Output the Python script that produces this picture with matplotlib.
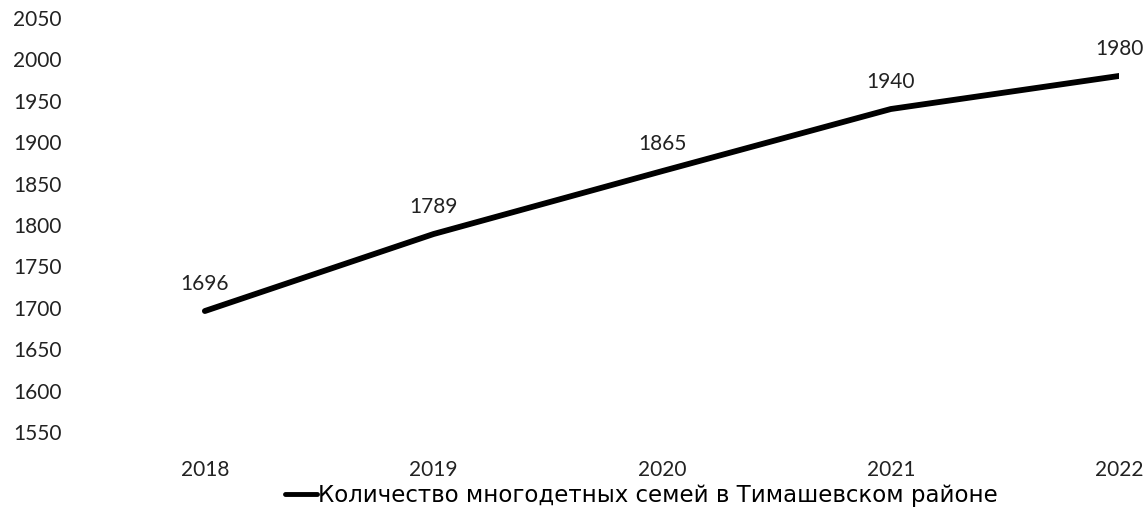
import matplotlib.pyplot as plt
import numpy as np

# Data
years = ["2018", "2019", "2020", "2021", "2022"]
families = [1696, 1789, 1865, 1940, 1980]
y_ticks = [1550, 1600, 1650, 1700, 1750, 1800, 1850, 1900, 1950, 2000, 2050]
series_name = "Количество многодетных семей в Тимашевском районе"

plt.rcParams["font.family"] = ["Lato", "DejaVu Sans"]

fig = plt.figure(figsize=(11.47, 5.28), dpi=100)
ax = fig.add_axes([0.061, 0.182, 0.915, 0.784])

x = np.arange(len(years))
ax.plot(x, families, color="black", linewidth=4.2, solid_capstyle="round",
        label=series_name)

# Value labels above each point
for xi, val in zip(x, families):
    ax.annotate(str(val), (xi, val), textcoords="offset points", xytext=(0, 12),
                ha="center", va="bottom", fontsize=15, color="#222222")

ax.set_ylim(1550, 2050)
ax.set_xlim(-0.59, 4.0)
ax.set_yticks(y_ticks)
ax.set_xticks(x)
ax.set_xticklabels(years)
ax.tick_params(axis="both", length=0, labelsize=15, colors="#222222")
ax.tick_params(axis="x", pad=20)
ax.tick_params(axis="y", pad=6)

for spine in ax.spines.values():
    spine.set_visible(False)

leg = fig.legend(loc="center", bbox_to_anchor=(0.559, 0.062), frameon=False,
                 prop={"family": ["DejaVu Sans"], "size": 16.5},
                 handlelength=1.4, handletextpad=0.05)
for line in leg.get_lines():
    line.set_linewidth(3.5)

fig.savefig("out.png", dpi=100)
